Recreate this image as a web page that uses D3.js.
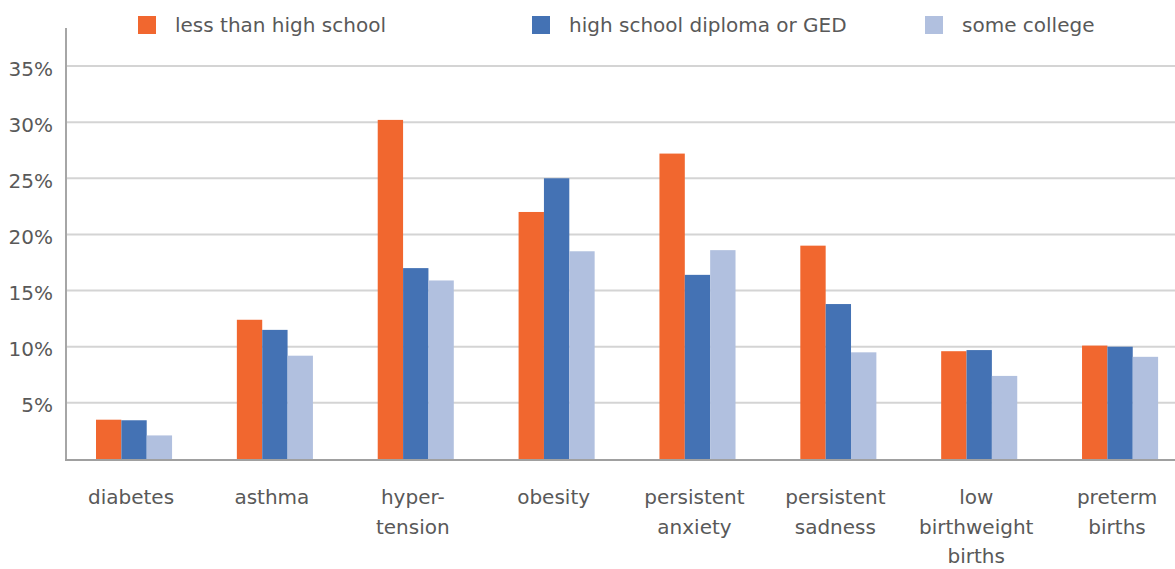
<!DOCTYPE html>
<html>
<head>
<meta charset="utf-8">
<script src="https://cdn.jsdelivr.net/npm/d3@7"></script>
<style>
  html, body { margin: 0; padding: 0; background: #fff; }
  svg { display: block; }
  text { font-family: "DejaVu Sans", sans-serif; fill: #595959; }
</style>
</head>
<body>
<svg id="chart" width="1175" height="569"></svg>
<script>
// ---- data ----
const categories = ["diabetes", "asthma", "hyper-\ntension", "obesity", "persistent\nanxiety", "persistent\nsadness", "low\nbirthweight\nbirths", "preterm\nbirths"];
const seriesNames = ["less than high school", "high school diploma or GED", "some college"];
const lessThanHighSchool = [3.5, 12.4, 30.2, 22.0, 27.2, 19.0, 9.6, 10.1];
const highSchoolDiploma  = [3.45, 11.5, 17.0, 25.0, 16.4, 13.8, 9.7, 10.0];
const someCollege        = [2.1, 9.2, 15.9, 18.5, 18.6, 9.5, 7.4, 9.1];
const yTicks = [5, 10, 15, 20, 25, 30, 35];
const colors = ["#F1672F", "#4472B4", "#B1C0DF"];

const series = [lessThanHighSchool, highSchoolDiploma, someCollege];

// ---- layout ----
const svg = d3.select("#chart");
const axisX = 66;
const plotRight = 1175;

const y = d3.scaleLinear().domain([0, 35]).range([459, 66]);
const x0 = d3.scaleBand().domain(categories).range([63.6, 1190.5]).paddingInner(0.46).paddingOuter(0.23);
const x1 = d3.scaleBand().domain(d3.range(seriesNames.length)).range([0, x0.bandwidth()]);

// gridlines
svg.append("g").selectAll("line").data(yTicks).join("line")
  .attr("x1", axisX).attr("x2", plotRight)
  .attr("y1", d => y(d)).attr("y2", d => y(d))
  .attr("stroke", "#d4d4d4").attr("stroke-width", 2);

// y tick labels
svg.append("g").selectAll("text").data(yTicks).join("text")
  .attr("x", 53).attr("y", d => y(d) + 4)
  .attr("text-anchor", "end").attr("dominant-baseline", "middle")
  .attr("font-size", 20)
  .text(d => d + "%");

// bars
const groups = svg.append("g").selectAll("g").data(categories).join("g")
  .attr("transform", d => `translate(${x0(d)},0)`);
groups.selectAll("rect")
  .data((c, i) => series.map((s, k) => ({ k, v: s[i] })))
  .join("rect")
  .attr("x", d => x1(d.k)).attr("width", x1.bandwidth())
  .attr("y", d => y(d.v)).attr("height", d => y(0) - y(d.v))
  .attr("fill", d => colors[d.k]);

// axes lines
svg.append("line").attr("x1", axisX).attr("x2", axisX).attr("y1", 28).attr("y2", y(0) + 1)
  .attr("stroke", "#a6a6a6").attr("stroke-width", 2);
svg.append("line").attr("x1", axisX - 1).attr("x2", plotRight).attr("y1", y(0) + 1).attr("y2", y(0) + 1)
  .attr("stroke", "#a0a0a0").attr("stroke-width", 2);

// x labels
const xl = svg.append("g").selectAll("text").data(categories).join("text")
  .attr("text-anchor", "middle").attr("font-size", 20)
  .attr("transform", d => `translate(${x0(d) + x0.bandwidth() / 2 - 3},504)`);
xl.selectAll("tspan").data(d => d.split("\n")).join("tspan")
  .attr("x", 0).attr("y", (d, i) => i * 29.5)
  .text(d => d);

// legend
const legendX = [138, 532, 925];
const lg = svg.append("g").selectAll("g").data(seriesNames).join("g")
  .attr("transform", (d, i) => `translate(${legendX[i]},16)`);
lg.append("rect").attr("width", 18).attr("height", 18).attr("fill", (d, i) => colors[i]);
lg.append("text").attr("x", 37).attr("y", 16).attr("font-size", 20).text(d => d);
</script>
</body>
</html>
